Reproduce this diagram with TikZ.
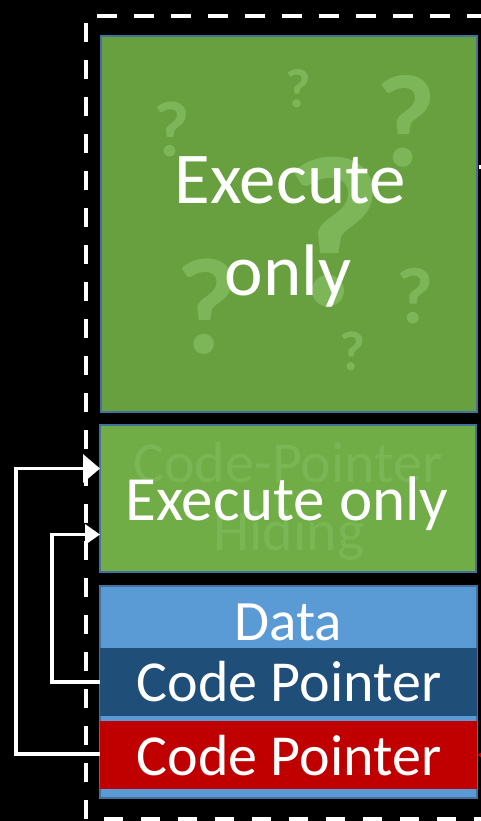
\documentclass[tikz,border=0pt]{standalone}
\usepackage{fontspec}
\setmainfont{Carlito}
\usetikzlibrary{arrows.meta}

\definecolor{xogreen}{RGB}{104,160,64}
\definecolor{xogreenB}{RGB}{112,173,71}
\definecolor{qmark}{RGB}{124,182,88}
\definecolor{ghost}{RGB}{122,182,84}
\definecolor{edgeblue}{RGB}{65,113,156}
\definecolor{databg}{RGB}{91,155,213}
\definecolor{ptrdark}{RGB}{31,78,121}
\definecolor{ptrred}{RGB}{192,0,0}

\tikzset{
  region/.style={draw=edgeblue, line width=1.5pt, inner sep=0pt, outer sep=0pt},
  band/.style={inner sep=0pt, outer sep=0pt, minimum width=377pt},
  lbl/.style={text=white, inner sep=0pt, anchor=base},
  qm/.style={text=qmark, inner sep=0pt, anchor=base},
  ghosttext/.style={text=ghost, inner sep=0pt, anchor=base, font=\fontsize{58}{58}\selectfont},
  link/.style={draw=white, line width=3.5pt, line join=miter},
  border/.style={draw=white, line width=3.5pt}
}

\begin{document}
\begin{tikzpicture}[x=1pt, y=-1pt]
  \useasboundingbox (0,0) rectangle (481,821);
  \fill[black] (0,0) rectangle (481,821);
  \clip (0,0) rectangle (481,821);

  % upper execute-only region
  \node[region, fill=xogreen, minimum width=376pt, minimum height=376pt] (xo1) at (289,224) {};
  \node[qm, font=\bfseries\fontsize{215}{215}\selectfont] (q1) at (333,305) {?};
  \node[qm, font=\bfseries\fontsize{132}{132}\selectfont] (q2) at (406,167) {?};
  \node[qm, font=\bfseries\fontsize{79}{79}\selectfont]  (q3) at (172,157) {?};
  \node[qm, font=\bfseries\fontsize{55}{55}\selectfont]  (q4) at (298,108) {?};
  \node[qm, font=\bfseries\fontsize{137}{137}\selectfont] (q5) at (207,353) {?};
  \node[qm, font=\bfseries\fontsize{80}{80}\selectfont]  (q6) at (415,323) {?};
  \node[qm, font=\bfseries\fontsize{56}{56}\selectfont]  (q7) at (352,370) {?};
  \node[lbl, font=\fontsize{73}{73}\selectfont] (t1a) at (290,203) {Execute};
  \node[lbl, font=\fontsize{73}{73}\selectfont] (t1b) at (288,295) {only};

  % lower execute-only region
  \node[region, fill=xogreenB, minimum width=376pt, minimum height=147pt] (xo2) at (288,498.5) {};
  \node[ghosttext] (g1) at (288,482) {Code-Pointer};
  \node[ghosttext] (g2) at (289,550) {Hiding};
  \node[lbl, font=\fontsize{63}{63}\selectfont] (t2) at (287,520) {Execute only};

  % data region with two code pointers
  \node[region, fill=databg, minimum width=377pt, minimum height=212pt] (dat) at (288.5,692) {};
  \node[band, fill=ptrdark, minimum height=68pt] (p1) at (288.5,682) {};
  \node[band, fill=ptrred, minimum height=68pt] (p2) at (288.5,755) {};
  \node[lbl, font=\fontsize{57}{57}\selectfont] (t3) at (288,640.5) {Data};
  \node[lbl, font=\fontsize{58}{58}\selectfont] (t4) at (289,701.5) {Code Pointer};
  \node[lbl, font=\fontsize{58}{58}\selectfont] (t5) at (289,775) {Code Pointer};

  % pointers into the execute-only code
  \coordinate (bendA) at (16,754);
  \coordinate (bendB) at (52,682);
  \draw[link, -{Triangle[length=17pt, width=28pt]}]
    (p2.west |- 0,754) -- (bendA) |- (xo2.west |- 0,468.5);
  \draw[link, -{Triangle[length=15pt, width=20pt]}]
    (p1.west) -- (bendB) |- (xo2.west |- 0,534.5);

  % connectors leaving on the right
  \coordinate (offA) at (479,167);
  \coordinate (offB) at (495,167);
  \draw[link] (offA) -- (offB);
  \coordinate (redsrc) at (520,755);
  \draw[draw=ptrred, line width=3pt, -{Triangle[length=14pt, width=16pt]}] (redsrc) -- (p2.east);

  % dashed frame
  \draw[border, dash pattern=on 20pt off 17pt] (97,16) -- (520,16);
  \draw[border, dash pattern=on 19pt off 18pt] (86,23) -- (86,819) -- (520,819);
\end{tikzpicture}
\end{document}
